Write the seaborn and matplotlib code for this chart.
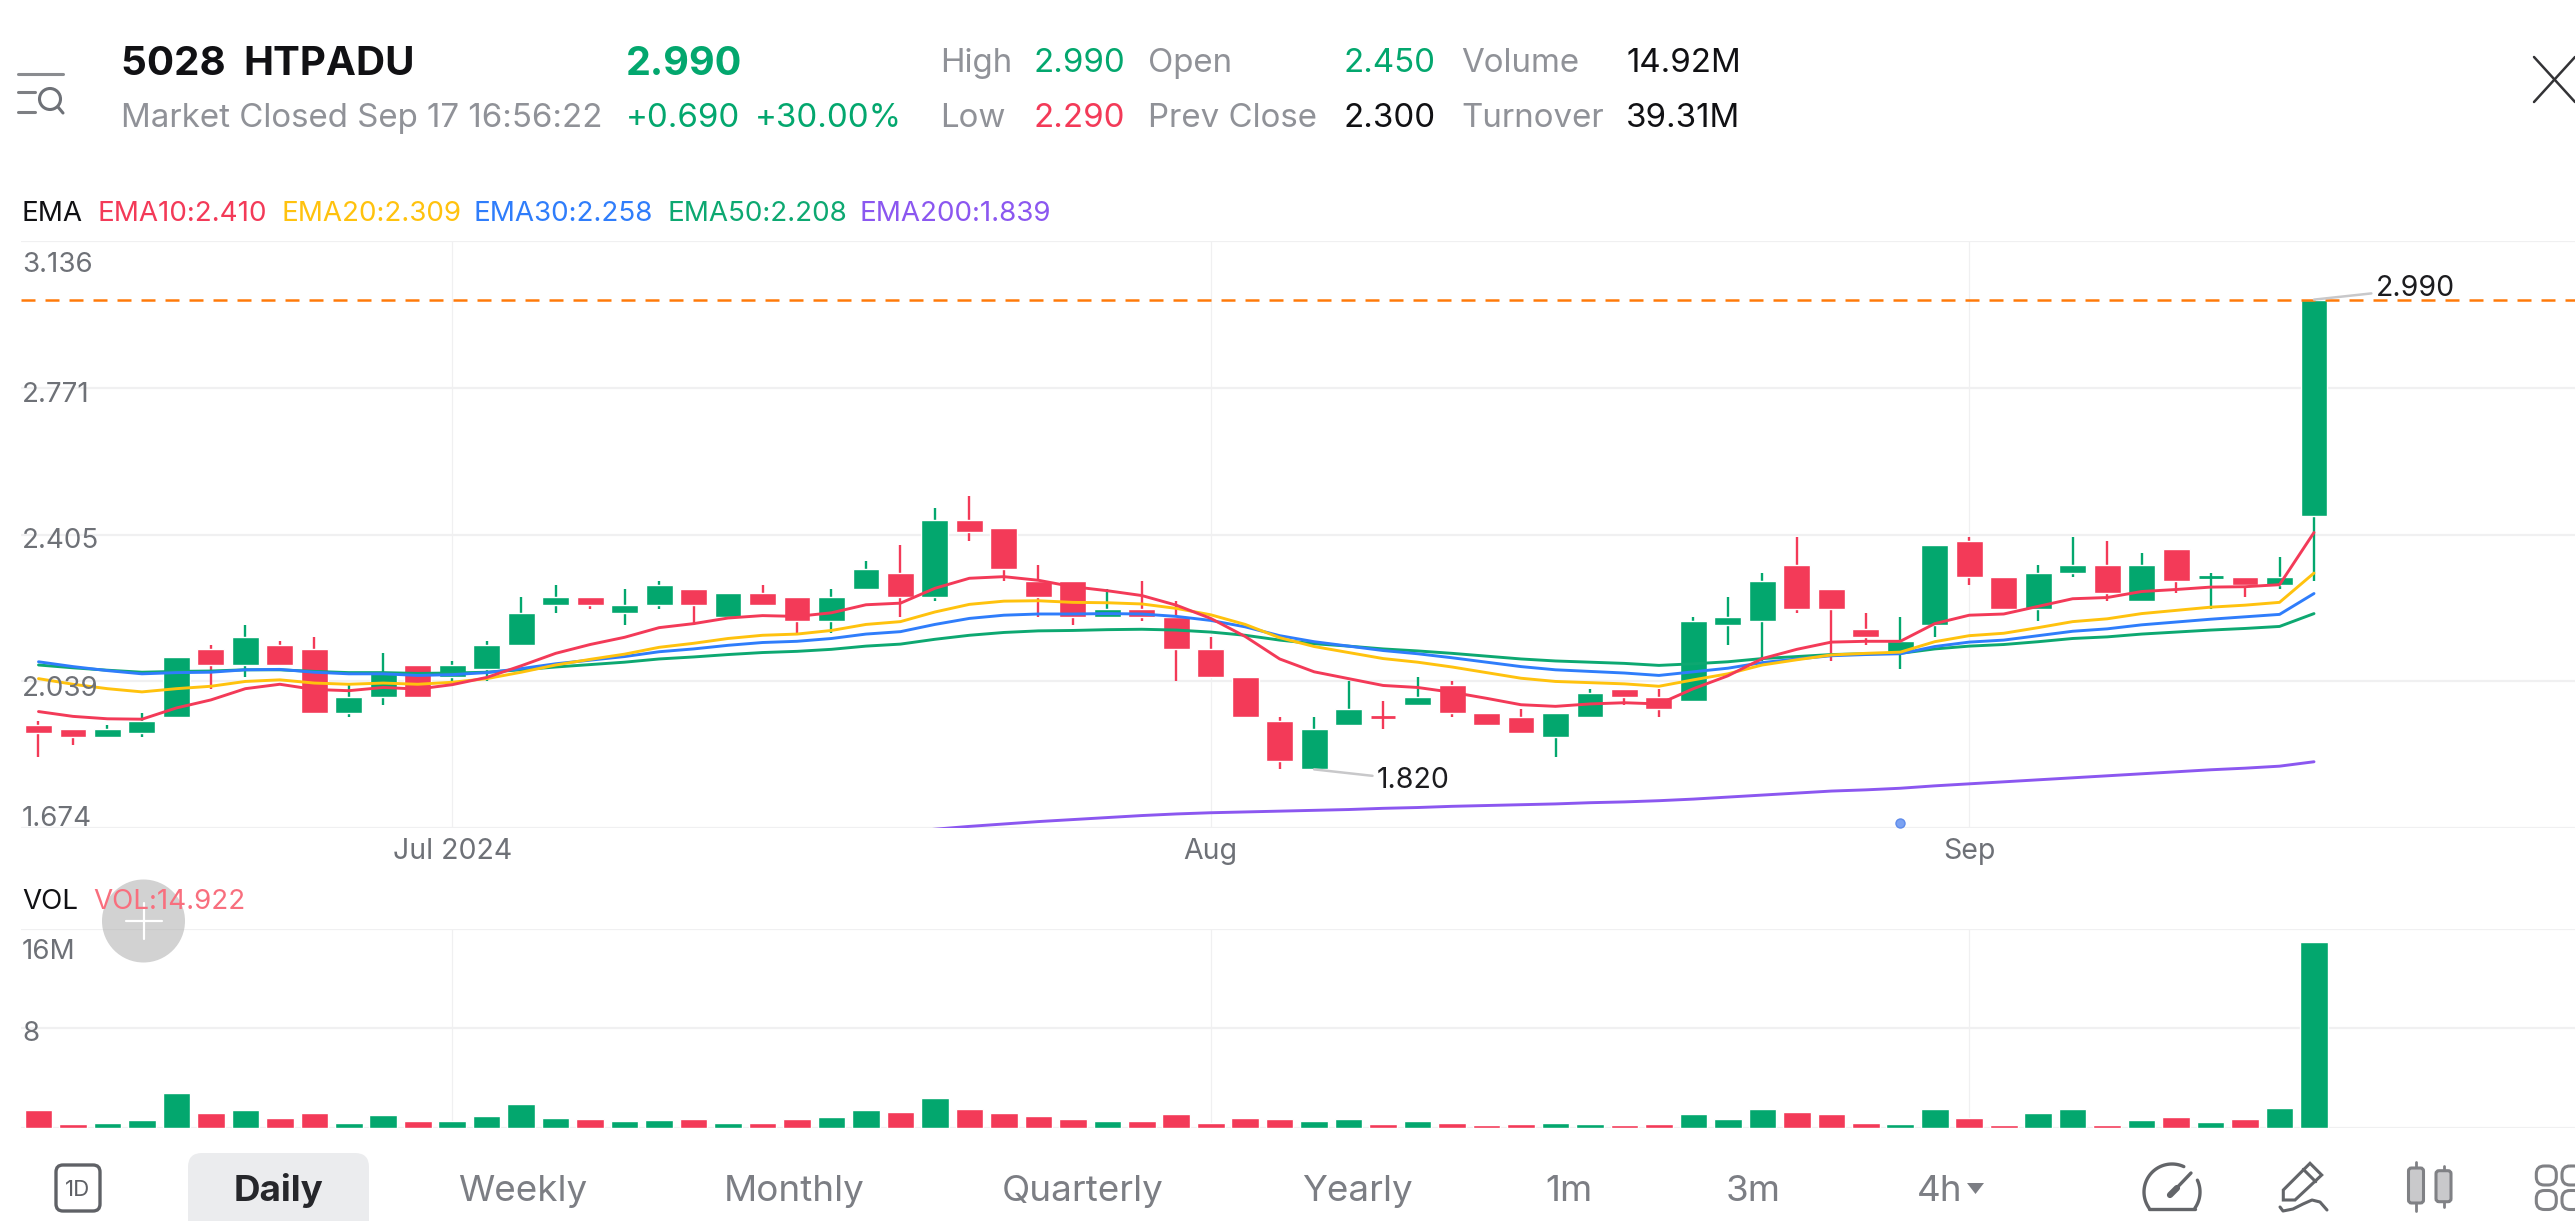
import numpy as np
import pandas as pd
import matplotlib
matplotlib.use('Agg')
import matplotlib.pyplot as plt
from matplotlib.patches import Circle, FancyBboxPatch, Polygon
import seaborn as sns

# daily prices
opens = [1.93,1.92,1.90,1.91,1.95,2.12,2.08,2.13,2.12,1.96,2.00,2.08,2.05,2.07,2.13,2.23,2.25,2.21,2.23,2.27,
         2.20,2.26,2.25,2.19,2.27,2.31,2.25,2.44,2.42,2.29,2.29,2.20,2.22,2.20,2.12,2.05,1.94,1.82,1.93,1.95,
         1.98,2.03,1.96,1.95,1.90,1.95,2.02,2.00,1.99,2.18,2.19,2.33,2.27,2.17,2.11,2.18,2.39,2.30,2.22,2.31,
         2.33,2.24,2.37,2.30,2.30,2.28,2.45]
closes = [1.91,1.90,1.92,1.94,2.10,2.08,2.15,2.08,1.96,2.00,2.06,2.00,2.08,2.13,2.21,2.25,2.23,2.23,2.28,2.23,
          2.26,2.23,2.19,2.25,2.32,2.25,2.44,2.41,2.32,2.25,2.20,2.22,2.20,2.12,2.05,1.95,1.84,1.92,1.97,1.95,
          2.00,1.96,1.93,1.91,1.96,2.01,2.00,1.97,2.19,2.20,2.29,2.22,2.22,2.15,2.14,2.38,2.30,2.22,2.31,2.33,
          2.26,2.33,2.29,2.30,2.28,2.30,2.99]
highs = [1.94,1.92,1.93,1.96,2.10,2.13,2.18,2.14,2.15,2.03,2.11,2.08,2.09,2.14,2.25,2.28,2.25,2.27,2.29,2.27,
         2.26,2.28,2.25,2.27,2.34,2.38,2.47,2.50,2.42,2.33,2.29,2.27,2.29,2.24,2.15,2.05,1.95,1.95,2.04,1.99,
         2.05,2.04,1.96,1.97,1.96,2.02,2.02,2.02,2.20,2.25,2.31,2.40,2.27,2.21,2.20,2.38,2.40,2.30,2.33,2.40,
         2.39,2.36,2.37,2.31,2.30,2.35,2.99]
lows = [1.85,1.88,1.90,1.90,1.95,2.02,2.05,2.08,1.96,1.95,1.98,2.00,2.04,2.04,2.13,2.21,2.22,2.18,2.22,2.18,
        2.20,2.23,2.16,2.16,2.27,2.20,2.24,2.39,2.29,2.20,2.18,2.20,2.19,2.04,2.05,1.95,1.82,1.82,1.93,1.92,
        1.98,1.95,1.93,1.91,1.85,1.95,1.98,1.95,1.99,2.13,2.09,2.21,2.09,2.13,2.07,2.15,2.28,2.22,2.19,2.30,
        2.24,2.24,2.26,2.22,2.25,2.27,2.29]

ema10 = [1.964,1.952,1.946,1.945,1.973,1.993,2.021,2.032,2.019,2.016,2.024,2.020,2.031,2.049,2.078,2.109,2.131,
         2.149,2.173,2.183,2.197,2.203,2.201,2.210,2.230,2.234,2.271,2.296,2.300,2.291,2.275,2.265,2.253,2.229,
         2.196,2.151,2.095,2.063,2.046,2.029,2.024,2.012,1.997,1.981,1.977,1.983,1.986,1.983,2.021,2.053,2.096,
         2.119,2.137,2.139,2.139,2.183,2.204,2.207,2.226,2.245,2.248,2.263,2.268,2.274,2.275,2.280,2.410]
ema20 = [2.046,2.032,2.021,2.013,2.021,2.027,2.039,2.043,2.035,2.032,2.035,2.032,2.037,2.046,2.062,2.080,2.094,
         2.107,2.124,2.134,2.146,2.154,2.157,2.166,2.181,2.188,2.212,2.231,2.239,2.240,2.236,2.235,2.232,2.221,
         2.205,2.181,2.148,2.126,2.111,2.096,2.087,2.075,2.061,2.047,2.039,2.036,2.033,2.027,2.043,2.058,2.080,
         2.093,2.105,2.109,2.112,2.138,2.153,2.159,2.173,2.188,2.195,2.208,2.216,2.224,2.229,2.236,2.309]
ema30 = [2.088,2.076,2.066,2.058,2.061,2.062,2.068,2.069,2.062,2.058,2.058,2.054,2.056,2.061,2.071,2.083,2.092,
         2.101,2.113,2.120,2.129,2.136,2.139,2.146,2.157,2.163,2.181,2.196,2.204,2.207,2.207,2.208,2.207,2.201,
         2.191,2.175,2.153,2.138,2.127,2.116,2.108,2.098,2.087,2.076,2.068,2.064,2.060,2.054,2.063,2.072,2.086,
         2.095,2.103,2.106,2.108,2.126,2.137,2.142,2.153,2.164,2.170,2.180,2.187,2.194,2.200,2.206,2.258]
ema50 = [2.080,2.073,2.067,2.062,2.064,2.065,2.068,2.068,2.064,2.061,2.061,2.059,2.060,2.062,2.068,2.075,2.081,
         2.087,2.095,2.100,2.106,2.111,2.114,2.119,2.127,2.132,2.144,2.154,2.161,2.165,2.166,2.168,2.169,2.167,
         2.162,2.154,2.142,2.133,2.127,2.120,2.115,2.109,2.102,2.095,2.090,2.087,2.084,2.079,2.083,2.088,2.096,
         2.101,2.106,2.108,2.109,2.120,2.127,2.131,2.138,2.146,2.150,2.157,2.162,2.167,2.171,2.176,2.208]
# the 200 line is under the bottom of the chart before this
ema200_tail = [1.663,1.671,1.678,1.684,1.690,1.695,1.700,1.705,1.709,1.712,1.714,1.716,1.718,1.720,1.723,1.725,
               1.728,1.730,1.732,1.734,1.737,1.739,1.742,1.746,1.751,1.756,1.761,1.766,1.769,1.773,1.779,1.784,
               1.789,1.794,1.799,1.804,1.809,1.814,1.819,1.823,1.828,1.839]

volume = [1.40,0.30,0.38,0.59,2.79,1.15,1.40,0.81,1.18,0.35,0.99,0.54,0.51,0.94,1.91,0.75,0.70,0.54,0.59,0.70,
          0.38,0.38,0.67,0.86,1.42,1.26,2.39,1.50,1.15,0.91,0.67,0.54,0.54,1.07,0.35,0.78,0.70,0.54,0.70,0.27,
          0.51,0.35,0.21,0.27,0.38,0.30,0.21,0.27,1.10,0.70,1.50,1.26,1.13,0.38,0.30,1.53,0.81,0.21,1.18,1.50,
          0.21,0.62,0.86,0.43,0.70,1.56,14.92]

price_ticks = [3.136, 2.771, 2.405, 2.039, 1.674]
price_tick_labels = ['3.136', '2.771', '2.405', '2.039', '1.674']
vol_ticks = [16, 8]
vol_tick_labels = ['16M', '8']
month_pos = [12, 34, 56]
month_labels = ['Jul 2024', 'Aug', 'Sep']
low_idx = 37

GREEN = '#03A76E'
RED = '#F33A58'
YELLOW = '#FFC20E'
BLUE = '#2F7DFB'
EMA50C = '#0DA871'
PURPLE = '#8B57F0'
ORANGE = '#FF7A0A'
GREY = '#909298'
TICKC = '#6E7177'
GRID = '#F0F0F1'
ICON = '#636569'
W, H = 2575, 1221

sns.set_theme(style='white')
plt.rcParams['font.family'] = ['Inter', 'DejaVu Sans']

n = len(closes)
df = pd.DataFrame({'i': np.arange(n), 'o': opens, 'c': closes, 'h': highs, 'l': lows, 'vol': volume})
df['ema10'], df['ema20'], df['ema30'], df['ema50'] = ema10, ema20, ema30, ema50
df['ema200'] = [np.nan] * (n - len(ema200_tail)) + ema200_tail
prev = df['c'].shift(1)
df['dir'] = np.where((df.c > df.o) | ((df.c == df.o) & (df.c >= prev)), 'up', 'down')
colors = df['dir'].map({'up': GREEN, 'down': RED})

fig = plt.figure(figsize=(W / 100, H / 100), dpi=100, facecolor='white')


def px_axes(x0, y0, x1, y1):
    return fig.add_axes([x0 / W, 1 - y1 / H, (x1 - x0) / W, (y1 - y0) / H])


ax = px_axes(21, 241, W, 828)
axv = px_axes(21, 929, W, 1127.7)
ui = fig.add_axes([0, 0, 1, 1], zorder=5)
ui.set_xlim(0, W)
ui.set_ylim(H, 0)
ui.axis('off')
ui.patch.set_alpha(0)

xlim = (-0.5075, 73.57)

# candles
ax.vlines(df.i, df.l, df.h, colors=colors, lw=1.7, zorder=2)
solid = df[df.o != df.c]
ax.bar(solid.i, (solid.c - solid.o).abs(), bottom=solid[['o', 'c']].min(axis=1), width=0.78,
       color=colors[solid.index], zorder=2.1)
flat = df[df.o == df.c]
ax.hlines(flat.c, flat.i - 0.35, flat.i + 0.35, colors=colors[flat.index], lw=2, zorder=2.1)

for col, c in [('ema200', PURPLE), ('ema50', EMA50C), ('ema30', BLUE), ('ema20', YELLOW), ('ema10', RED)]:
    sns.lineplot(data=df.dropna(subset=[col]), x='i', y=col, color=c, lw=2.1, ax=ax, errorbar=None, zorder=3)

ax.axhline(closes[-1], color=ORANGE, lw=1.8, ls=(0, (5.6, 4)), zorder=4)
ax.plot([54], [1.686], 'o', ms=6.5, mfc='#7BA2F2', mec='#5E8BEB', mew=1, zorder=4, clip_on=False)

ax.set_xlim(xlim)
ax.set_ylim(price_ticks[-1], price_ticks[0])
ax.set_xticks(month_pos)
ax.set_xticklabels(month_labels, fontsize=20.5, color=TICKC)
ax.set_yticks(price_ticks)
ax.tick_params(axis='both', length=0, labelleft=False)
ax.tick_params(axis='x', pad=7)
ax.set_xlabel('')
ax.set_ylabel('')
ax.xaxis.grid(True, color=GRID, lw=0.9)
ax.yaxis.grid(True, color=GRID, lw=1.6)
ax.set_axisbelow(True)
sns.despine(ax=ax, left=True, bottom=True)
ax.patch.set_alpha(0)

# labels sit on the chart, not beside it
offsets = [-30.5, -14, -13, -15, 2]
for v, lab, off in zip(price_ticks, price_tick_labels, offsets):
    ax.annotate(lab, xy=(0, v), xycoords=('axes fraction', 'data'), xytext=(1, off), textcoords='offset pixels',
                fontsize=20, color=TICKC, va='baseline', ha='left', zorder=5, annotation_clip=False)

ax.annotate('1.820', xy=(low_idx, lows[low_idx]), xytext=(63, -11), textcoords='offset pixels', fontsize=20.5,
            color='#1C1C1F', va='center', ha='left', zorder=5,
            arrowprops=dict(arrowstyle='-', color='#C8C8CA', lw=1.8, shrinkA=1, shrinkB=0))
ax.annotate('2.990', xy=(n - 1, highs[-1]), xytext=(62, 11), textcoords='offset pixels', fontsize=20.5,
            color='#1C1C1F', va='center', ha='left', zorder=5,
            arrowprops=dict(arrowstyle='-', color='#C8C8CA', lw=1.8, shrinkA=1, shrinkB=0))

# volume
sns.barplot(data=df, x='i', y='vol', hue='dir', palette={'up': GREEN, 'down': RED}, native_scale=True, dodge=False,
            width=0.8, saturation=1, legend=False, ax=axv, zorder=2)
axv.set_xlim(xlim)
axv.set_ylim(0, 16)
axv.set_xticks(month_pos)
axv.set_yticks([0] + vol_ticks)
axv.tick_params(axis='both', length=0, labelleft=False, labelbottom=False)
axv.set_xlabel('')
axv.set_ylabel('')
axv.xaxis.grid(True, color=GRID, lw=0.9)
axv.yaxis.grid(True, color=GRID, lw=1.6)
axv.set_axisbelow(True)
sns.despine(ax=axv, left=True, bottom=True)
for v, lab, off in zip(vol_ticks, vol_tick_labels, [-30, -13]):
    axv.annotate(lab, xy=(0, v), xycoords=('axes fraction', 'data'), xytext=(1, off), textcoords='offset pixels',
                 fontsize=20, color=TICKC, va='baseline', ha='left', annotation_clip=False)


def t(x, y, s, size, color, weight='normal', ha='left'):
    ui.text(x, y, s, fontsize=size, color=color, fontweight=weight, ha=ha, va='baseline')


# header
t(121, 75, '5028 ', 29, '#111114', 'bold')
t(243, 75, 'HTPADU', 29, '#111114', 'bold')
t(626, 75, '2.990', 28.5, GREEN, 'bold')
t(121, 127, 'Market Closed Sep 17 16:56:22', 23.8, GREY)
t(626, 127, '+0.690', 23.8, GREEN)
t(755, 127, '+30.00%', 23.8, GREEN)
t(940, 72, 'High', 23.8, GREY)
t(1033, 72, '2.990', 23.8, GREEN)
t(1148, 72, 'Open', 23.8, GREY)
t(1343, 72, '2.450', 23.8, GREEN)
t(1461, 72, 'Volume', 23.8, GREY)
t(1626, 72, '14.92M', 23.8, '#111114')
t(940, 127, 'Low', 23.8, GREY)
t(1033, 127, '2.290', 23.8, RED)
t(1148, 127, 'Prev Close', 23.8, GREY)
t(1343, 127, '2.300', 23.8, '#111114')
t(1461, 127, 'Turnover', 23.8, GREY)
t(1626, 127, '39.31M', 23.8, '#111114')

# indicator legends
t(22, 221, 'EMA', 20, '#111114')
t(98, 221, 'EMA10:2.410', 20, RED)
t(281, 221, 'EMA20:2.309', 20, YELLOW)
t(474, 221, 'EMA30:2.258', 20, BLUE)
t(667, 221, 'EMA50:2.208', 20, EMA50C)
t(860, 221, 'EMA200:1.839', 20, PURPLE)
t(22, 909, 'VOL', 20, '#111114')
t(93, 909, 'VOL:14.922', 20, '#F86F7E')

# floating plus button
ui.add_patch(Circle((143.5, 921), 41.5, fc='#ADADAD', ec='none', alpha=0.55))
ui.plot([126, 162], [921, 921], color='white', lw=1.6)
ui.plot([143.5, 143.5], [903, 939], color='white', lw=1.6)

# top icons
ui.plot([18, 63], [74, 74], color='#8A8C90', lw=2.2)
ui.plot([18, 35], [92, 92], color='#7D7F83', lw=2.2)
ui.plot([18, 35], [112, 112], color='#7D7F83', lw=2.2)
ui.add_patch(Circle((50, 99), 10.5, fc='none', ec='#6E7177', lw=2.2))
ui.plot([58, 63], [107, 113], color='#6E7177', lw=2.2)
ui.plot([2534, 2575], [57, 102], color='#333336', lw=1.8)
ui.plot([2575, 2534], [57, 102], color='#333336', lw=1.8)

# bottom bar
ui.add_patch(FancyBboxPatch((188, 1153), 181, 90, boxstyle='round,pad=0,rounding_size=14', fc='#EBECEE', ec='none'))
ui.add_patch(FancyBboxPatch((56, 1165), 44, 46, boxstyle='round,pad=0,rounding_size=7', fc='none', ec='#5F6166', lw=2.4))
ui.text(78, 1196, '1D', fontsize=16, color='#5F6166', ha='center', va='baseline')
t(279, 1201, 'Daily', 26.5, '#26272B', 'bold', 'center')
for x, s in [(523, 'Weekly'), (794, 'Monthly'), (1083, 'Quarterly'), (1357, 'Yearly'), (1569, '1m'), (1753, '3m'), (1940, '4h')]:
    t(x, 1201, s, 26.5, '#7C7E84', 'normal', 'center')
ui.add_patch(Polygon([(1967, 1183), (1984, 1183), (1975.5, 1194)], fc='#7C7E84', ec='none'))

# gauge icon
for a0, a1 in [(65, 215), (25, -35)]:
    ang = np.radians(np.linspace(a0, a1, 40))
    ui.plot(2172 + 28 * np.cos(ang), 1192 - 28 * np.sin(ang), color=ICON, lw=2.4)
ui.plot([2149, 2195], [1209, 1209], color=ICON, lw=2.4)
ui.plot([2170, 2191], [1195, 1173], color=ICON, lw=2.4, solid_capstyle='round')
ui.plot([2170, 2177], [1195, 1188], color=ICON, lw=4.5, solid_capstyle='round')
# pencil icon
ui.add_patch(Polygon([(2283.3, 1190), (2310, 1163.3), (2321.7, 1175), (2295, 1200), (2283.3, 1200)], fc='none', ec=ICON, lw=2.2))
ui.plot([2303.3, 2315.7], [1169.3, 1181.7], color=ICON, lw=2.2)
ui.plot([2280, 2283, 2293, 2303, 2312, 2320, 2327], [1207, 1211, 1209, 1204, 1200, 1202, 1210], color=ICON, lw=2.2)
# candle icon
for x, top, bot, lo, hi in [(2416, 1168, 1203, 1161.7, 1211), (2443.5, 1170.7, 1201.7, 1165.7, 1206.7)]:
    ui.plot([x, x], [lo, hi], color='#808185', lw=2)
    ui.add_patch(FancyBboxPatch((x - 7.5, top), 15, bot - top, boxstyle='round,pad=0,rounding_size=3', fc='#C9C9CB', ec='#808185', lw=2.2, zorder=3))
# grid icon, runs off the right edge
for x in [2546.3, 2572]:
    for y in [1175.5, 1200]:
        ui.add_patch(FancyBboxPatch((x - 10, y - 9.5), 20, 19, boxstyle='round,pad=0,rounding_size=8', fc='none', ec='#808185', lw=2.2))

fig.savefig('out.png', dpi=100, facecolor='white')
